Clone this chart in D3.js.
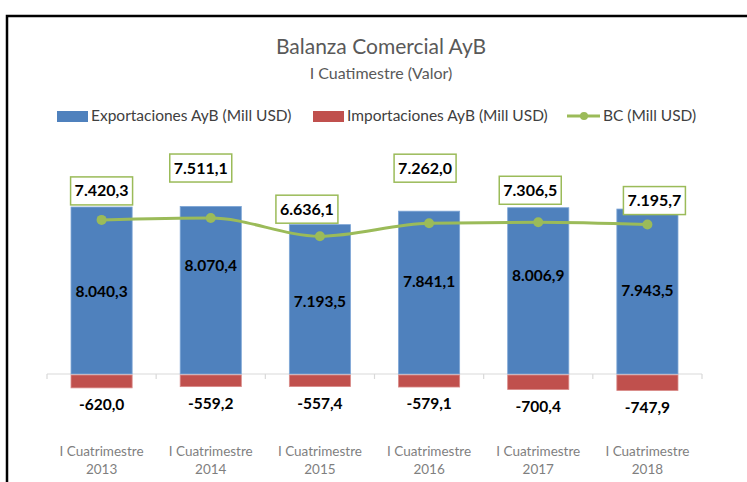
<!DOCTYPE html>
<html>
<head>
<meta charset="utf-8">
<script src="https://cdn.jsdelivr.net/npm/d3@7"></script>
<style>
  body{margin:0;background:#fff;}
  svg{display:block;font-family:Lato,"Open Sans",sans-serif;}
</style>
</head>
<body>
<svg id="canvas" width="747" height="482"></svg>
<script>
// data
const years=["2013","2014","2015","2016","2017","2018"]
const exportaciones=[8040.3,8070.4,7193.5,7841.1,8006.9,7943.5]
const importaciones=[-620.0,-559.2,-557.4,-579.1,-700.4,-747.9]
const balanza=[7420.3,7511.1,6636.1,7262.0,7306.5,7195.7]

// hand placed label offsets (like the excel labels)
const bcLabelDx=[0,-10,-13,-4,-8,7]
const bcLabelDy=[-29,-50,-27,-55,-32,-24]
const expLabelY=[292,266,302,282,276,291]

const fmt=(v)=>{
    const s=d3.format(",.1f")(v)
    return s.replace(/,/g,"#").replace(".",",").replace(/#/g,".").replace("\u2212","-")
}

const blue="#4F81BD", red="#C0504D", green="#9BBB59"
let canvas=d3.select("#canvas")

// frame
canvas.append("rect")
    .attr("x",7).attr("y",16)
    .attr("width",800).attr("height",520)
    .attr("fill","#fff")
    .attr("stroke","#000")
    .attr("stroke-width",2.5)

canvas.append("text")
    .text("Balanza Comercial AyB")
    .attr("x",381).attr("y",54)
    .attr("text-anchor","middle")
    .attr("font-size",21)
    .attr("fill","#595959")
canvas.append("text")
    .text("I Cuatimestre (Valor)")
    .attr("x",381).attr("y",79)
    .attr("text-anchor","middle")
    .attr("font-size",16)
    .attr("fill","#595959")

// legend
const legend=canvas.append("g")
legend.append("rect").attr("x",57).attr("y",111).attr("width",31).attr("height",11).attr("fill",blue)
legend.append("text").text("Exportaciones AyB (Mill USD)").attr("x",91).attr("y",121).attr("font-size",15.5).attr("fill","#404040")
legend.append("rect").attr("x",313).attr("y",111).attr("width",31).attr("height",11).attr("fill",red)
legend.append("text").text("Importaciones AyB (Mill USD)").attr("x",347).attr("y",121).attr("font-size",15.5).attr("fill","#404040")
legend.append("line").attr("x1",567).attr("x2",600).attr("y1",116).attr("y2",116).attr("stroke",green).attr("stroke-width",3)
legend.append("circle").attr("cx",584).attr("cy",116).attr("r",4).attr("fill",green)
legend.append("text").text("BC (Mill USD)").attr("x",603).attr("y",121).attr("font-size",15.5).attr("fill","#404040")

const x=d3.scaleBand()
    .domain(years)
    .range([47,702])
    .paddingInner(0.44)
    .paddingOuter(0.22)

const y=d3.scaleLinear()
    .domain([-1000,9000])
    .range([374+20.77,374-186.9])

// axis line + ticks at band edges
const axis=canvas.append("g")
axis.append("line")
    .attr("x1",47).attr("x2",702)
    .attr("y1",y(0)).attr("y2",y(0))
    .attr("stroke","#d9d9d9").attr("stroke-width",1.2)
const edges=years.map((d,i)=>47+i*x.step()).concat([702])
axis.selectAll(".tk")
    .data(edges)
    .enter()
    .append("line")
    .attr("x1",(d)=>d).attr("x2",(d)=>d)
    .attr("y1",y(0)).attr("y2",y(0)+5)
    .attr("stroke","#d9d9d9").attr("stroke-width",1.2)

// export bars
canvas.selectAll(".exp")
    .data(exportaciones)
    .enter()
    .append("rect")
    .attr("x",(d,i)=>x(years[i]))
    .attr("y",(d)=>y(d))
    .attr("width",x.bandwidth())
    .attr("height",(d)=>y(0)-y(d))
    .attr("fill",blue)
    .attr("stroke","#7ea6d6").attr("stroke-width",0.8)

// import bars
canvas.selectAll(".imp")
    .data(importaciones)
    .enter()
    .append("rect")
    .attr("x",(d,i)=>x(years[i]))
    .attr("y",y(0)+1)
    .attr("width",x.bandwidth())
    .attr("height",(d)=>y(d)-y(0))
    .attr("fill",red)
    .attr("stroke","#d98a88").attr("stroke-width",0.8)

// export labels
canvas.selectAll(".expl")
    .data(exportaciones)
    .enter()
    .append("text")
    .text((d)=>fmt(d))
    .attr("x",(d,i)=>x(years[i])+x.bandwidth()/2)
    .attr("y",(d,i)=>expLabelY[i]+5)
    .attr("text-anchor","middle")
    .attr("font-size",15.5).attr("font-weight","bold")
    .attr("fill","#000")

// import labels
canvas.selectAll(".impl")
    .data(importaciones)
    .enter()
    .append("text")
    .text((d)=>fmt(d))
    .attr("x",(d,i)=>x(years[i])+x.bandwidth()/2)
    .attr("y",(d)=>y(d)+23)
    .attr("text-anchor","middle")
    .attr("font-size",15.5).attr("font-weight","bold")
    .attr("fill","#000")

// BC line
const cx=(i)=>x(years[i])+x.bandwidth()/2
const line=d3.line()
    .x((d,i)=>cx(i))
    .y((d)=>y(d))
    .curve(d3.curveMonotoneX)
canvas.append("path")
    .datum(balanza)
    .attr("d",line)
    .attr("fill","none")
    .attr("stroke",green)
    .attr("stroke-width",3)
canvas.selectAll(".dot")
    .data(balanza)
    .enter()
    .append("circle")
    .attr("cx",(d,i)=>cx(i))
    .attr("cy",(d)=>y(d))
    .attr("r",5)
    .attr("fill",green)

// BC boxed labels
const bcl=canvas.selectAll(".bcl")
    .data(balanza)
    .enter()
    .append("g")
    .attr("transform",(d,i)=>`translate(${cx(i)+bcLabelDx[i]},${y(d)+bcLabelDy[i]})`)
bcl.append("rect")
    .attr("x",-31).attr("y",-14)
    .attr("width",62).attr("height",28)
    .attr("fill","#fff")
    .attr("stroke",green).attr("stroke-width",1.5)
bcl.append("text")
    .text((d)=>fmt(d))
    .attr("y",5.5)
    .attr("text-anchor","middle")
    .attr("font-size",16).attr("font-weight","bold")
    .attr("fill","#000")

// category labels
const cat=canvas.selectAll(".cat")
    .data(years)
    .enter()
    .append("text")
    .attr("x",(d)=>x(d)+x.bandwidth()/2)
    .attr("text-anchor","middle")
    .attr("font-size",13.5)
    .attr("fill","#7f7f7f")
cat.append("tspan").text("I Cuatrimestre").attr("x",(d)=>x(d)+x.bandwidth()/2).attr("y",456)
cat.append("tspan").text((d)=>d).attr("x",(d)=>x(d)+x.bandwidth()/2).attr("y",474)
</script>
</body>
</html>
